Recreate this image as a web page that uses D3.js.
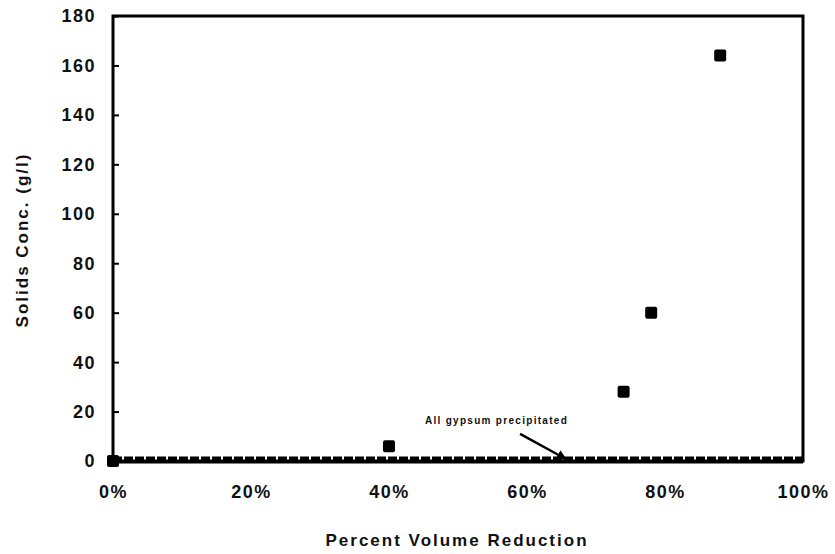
<!DOCTYPE html>
<html>
<head>
<meta charset="utf-8">
<script src="https://cdn.jsdelivr.net/npm/d3@7"></script>
<style>
  body { margin: 0; background: #fff; }
  text { font-family: "Liberation Sans", Arial, sans-serif; font-weight: bold; fill: #111; }
</style>
</head>
<body>
<script>
// volume reduction (fraction) vs solids concentration (g/l)
var reduction = [0, 0.40, 0.74, 0.78, 0.88];
var solids = [0, 6, 28, 60, 164];
var gypsumLevel = 1;              // dashed line "All gypsum precipitated"
var yTicks = [0, 20, 40, 60, 80, 100, 120, 140, 160, 180];
var xTicks = [0, 0.2, 0.4, 0.6, 0.8, 1.0];

var margin = {top: 16, right: 32, bottom: 93, left: 113},
    width = 835 - margin.left - margin.right,
    height = 554 - margin.top - margin.bottom;

var svg = d3.select("body").append("svg")
    .attr("width", 835)
    .attr("height", 554);

var chart = svg.append("g")
    .attr("transform", "translate(" + margin.left + "," + margin.top + ")");

var x = d3.scaleLinear().domain([0, 1]).range([0, width]);
var y = d3.scaleLinear().domain([0, 180]).range([height, 0]);

// y axis: ticks pointing inward, labels on the left
var yAxis = chart.append("g")
    .call(d3.axisRight(y).tickValues(yTicks).tickSize(6).tickFormat(""));
yAxis.select(".domain").remove();
yAxis.selectAll("line").attr("stroke", "#000").attr("stroke-width", 2);

chart.selectAll(".ylab")
    .data(yTicks)
    .enter().append("text")
    .attr("class", "ylab")
    .attr("x", -17)
    .attr("y", d => y(d))
    .attr("dy", "0.36em")
    .attr("text-anchor", "end")
    .style("font-size", "18px")
    .style("letter-spacing", "1.5px")
    .text(d => d);

// x axis labels
var xAxis = chart.append("g")
    .attr("transform", "translate(0," + height + ")")
    .call(d3.axisBottom(x).tickValues(xTicks).tickSize(0).tickPadding(24).tickFormat(d3.format(".0%")));
xAxis.select(".domain").remove();
xAxis.selectAll("text")
    .style("font-size", "18px")
    .style("letter-spacing", "1.5px")
    .style("font-family", "Liberation Sans, Arial, sans-serif")
    .style("font-weight", "bold")
    .attr("fill", "#111");

// frame
chart.append("rect")
    .attr("x", 0).attr("y", 0)
    .attr("width", width).attr("height", height)
    .attr("fill", "none")
    .attr("stroke", "#000")
    .attr("stroke-width", 3);

// baseline + dashed gypsum line
chart.append("line")
    .attr("x1", x(0)).attr("x2", x(1))
    .attr("y1", y(0) + 1).attr("y2", y(0) + 1)
    .attr("stroke", "#000").attr("stroke-width", 3);
chart.append("line")
    .attr("x1", x(0)).attr("x2", x(1))
    .attr("y1", y(gypsumLevel)).attr("y2", y(gypsumLevel))
    .attr("stroke", "#000")
    .attr("stroke-width", 4)
    .attr("stroke-dasharray", "9,2");

// points
var pts = reduction.map((r, i) => ({r: r, s: solids[i]}));
chart.selectAll(".pt")
    .data(pts)
    .enter().append("rect")
    .attr("class", "pt")
    .attr("x", d => x(d.r) - 6)
    .attr("y", d => y(d.s) - 6)
    .attr("width", 12)
    .attr("height", 12)
    .attr("rx", 2)
    .attr("fill", "#000");

// annotation
svg.append("defs").append("marker")
    .attr("id", "arrow")
    .attr("viewBox", "0 0 10 10")
    .attr("refX", 8).attr("refY", 5)
    .attr("markerWidth", 4).attr("markerHeight", 4)
    .attr("orient", "auto")
    .append("path")
    .attr("d", "M0,0 L10,5 L0,10 z")
    .attr("fill", "#000");

chart.append("text")
    .attr("x", x(0.452))
    .attr("y", y(15))
    .style("font-size", "10px")
    .style("letter-spacing", "1.3px")
    .text("All gypsum precipitated");

chart.append("line")
    .attr("x1", x(0.59)).attr("y1", y(11))
    .attr("x2", x(0.655)).attr("y2", y(gypsumLevel))
    .attr("stroke", "#000")
    .attr("stroke-width", 2.5)
    .attr("marker-end", "url(#arrow)");

// axis titles
svg.append("text")
    .attr("x", 457)
    .attr("y", 546)
    .attr("text-anchor", "middle")
    .style("font-size", "17px")
    .style("letter-spacing", "2px")
    .text("Percent Volume Reduction");

svg.append("text")
    .attr("transform", "translate(28,240) rotate(-90)")
    .attr("text-anchor", "middle")
    .style("font-size", "17px")
    .style("letter-spacing", "2px")
    .text("Solids Conc. (g/l)");
</script>
</body>
</html>
